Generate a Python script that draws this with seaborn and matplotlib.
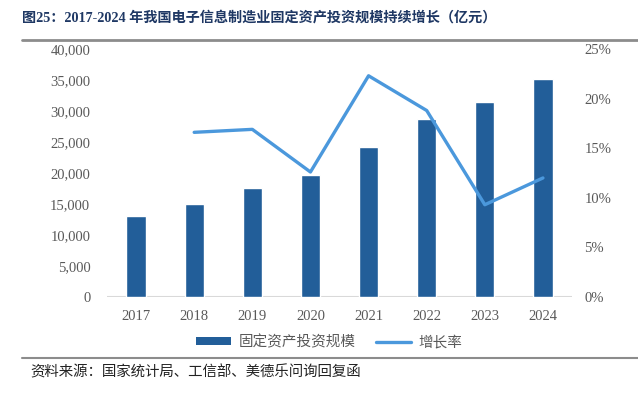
"""
2017-2024 electronic information manufacturing fixed-asset investment chart
"""
import numpy as np
import pandas as pd
import matplotlib
matplotlib.use('Agg')
import matplotlib.pyplot as plt
from matplotlib.lines import Line2D
from matplotlib.patches import Patch
import seaborn as sns

# Data
years = ['2017', '2018', '2019', '2020', '2021', '2022', '2023', '2024']
investment = [13060, 15060, 17650, 19740, 24190, 28770, 31450, 35110]  # 亿元
growth = [np.nan, 16.6, 16.9, 12.6, 22.3, 18.8, 9.3, 12.0]  # %

left_ticks = [0, 5000, 10000, 15000, 20000, 25000, 30000, 35000, 40000]
right_ticks = [0, 5, 10, 15, 20, 25]

title_text = '图25：2017-2024 年我国电子信息制造业固定资产投资规模持续增长（亿元）'
source_text = '资料来源：国家统计局、工信部、美德乐问询回复函'
bar_label = '固定资产投资规模'
line_label = '增长率'

BAR_COLOR = '#225e99'
LINE_COLOR = '#4b98dc'
TICK_COLOR = '#595959'


def main():
    sns.set_theme(style='white')
    plt.rcParams['font.family'] = ['Liberation Serif', 'Noto Sans CJK SC', 'DejaVu Sans']

    df = pd.DataFrame({'year': years, 'investment': investment, 'growth': growth})
    df['pos'] = np.arange(len(df))

    fig = plt.figure(figsize=(6.38, 3.94), dpi=100)
    ax = fig.add_axes([107 / 638, 1 - 297 / 394, (572 - 107) / 638, (297 - 49) / 394])

    sns.barplot(data=df, x='year', y='investment', color=BAR_COLOR, width=0.33,
                saturation=1, ax=ax)
    ax.set_xlim(-0.5, len(years) - 0.5)
    ax.set_ylim(0, 40000)
    ax.set_yticks(left_ticks)
    ax.set_yticklabels([f'{v:,}' for v in left_ticks])
    ax.set_xlabel('')
    ax.set_ylabel('')

    ax2 = ax.twinx()
    sns.lineplot(data=df.dropna(), x='pos', y='growth', color=LINE_COLOR,
                 linewidth=2.4, ax=ax2)
    ax2.set_ylim(0, 25)
    ax2.set_yticks(right_ticks)
    ax2.set_yticklabels([f'{v}%' for v in right_ticks])
    ax2.set_xlabel('')
    ax2.set_ylabel('')
    ax2.set_xlim(-0.5, len(years) - 0.5)

    for a in (ax, ax2):
        for side in ('top', 'left', 'right', 'bottom'):
            a.spines[side].set_visible(False)
        a.tick_params(axis='both', length=0, labelsize=10.5, colors=TICK_COLOR)
    ax.axhline(0, color='#d9d9d9', linewidth=1.5, zorder=0)
    ax.tick_params(axis='y', pad=12)
    ax.tick_params(axis='x', pad=9)
    ax2.tick_params(axis='y', pad=9)

    handles = [
        Patch(facecolor=BAR_COLOR, edgecolor='none'),
        Line2D([0], [0], color=LINE_COLOR, linewidth=2.4),
    ]
    fig.legend(handles, [bar_label, line_label], loc='center',
               bbox_to_anchor=(329 / 638, 1 - 342 / 394), ncol=2, frameon=False,
               handlelength=2.4, handleheight=0.45, handletextpad=0.5,
               columnspacing=1.4,
               prop={'family': ['Noto Sans CJK SC'], 'size': 10.5},
               labelcolor=TICK_COLOR)

    fig.text(22 / 638, 1 - 18 / 394, title_text, fontsize=10.2, fontweight='bold',
             color='#1f3864', va='center', ha='left')
    fig.add_artist(Line2D([22 / 638, 1], [1 - 40 / 394] * 2, color='#8c8c8c',
                          linewidth=2))
    fig.add_artist(Line2D([22 / 638, 1], [1 - 358 / 394] * 2, color='#8c8c8c',
                          linewidth=1.5))
    fig.text(30 / 638, 1 - 372 / 394, source_text, fontsize=10.4, color='#222222',
             va='center', ha='left', family=['Noto Sans CJK SC'])

    fig.savefig('out.png', dpi=100)
    plt.close(fig)


if __name__ == '__main__':
    main()
